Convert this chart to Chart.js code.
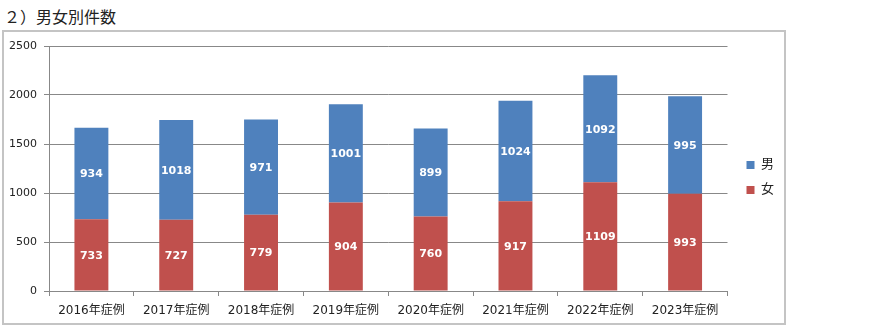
<!DOCTYPE html>
<html>
<head>
<meta charset="utf-8">
<script src="https://cdn.jsdelivr.net/npm/chart.js@4/dist/chart.umd.min.js"></script>
<style>
  body { margin: 0; background: #fff; width: 879px; height: 329px; position: relative; overflow: hidden; }
  #title { position: absolute; left: 4px; top: 4px; font: 16px "Noto Sans CJK JP", sans-serif; color: #222; }
  #box { position: absolute; left: 2px; top: 30px; width: 784px; height: 295px; border: 2px solid #c4c4c4; box-sizing: border-box; }
  #chart { display: block; }
</style>
</head>
<body>
<div id="title">２）男女別件数</div>
<div id="box"><canvas id="chart" width="780" height="291"></canvas></div>
<script>
// categories and series
const years = ['2016年症例', '2017年症例', '2018年症例', '2019年症例', '2020年症例', '2021年症例', '2022年症例', '2023年症例'];
const female = [733, 727, 779, 904, 760, 917, 1109, 993];
const male = [934, 1018, 971, 1001, 899, 1024, 1092, 995];
const yTicks = [0, 500, 1000, 1500, 2000, 2500];

const fontFamily = '"DejaVu Sans", "Noto Sans CJK JP", sans-serif';

// white numbers in the middle of every segment
const segmentLabels = {
    id: 'segmentLabels',
    afterDatasetsDraw(chart) {
        const ctx = chart.ctx;
        ctx.save();
        ctx.font = 'bold 11px ' + fontFamily;
        ctx.fillStyle = '#fff';
        ctx.textAlign = 'center';
        ctx.textBaseline = 'middle';
        chart.data.datasets.forEach((ds, i) => {
            chart.getDatasetMeta(i).data.forEach((bar, j) => {
                const p = bar.getProps(['x', 'y', 'base'], true);
                ctx.fillText(ds.data[j], p.x, (p.y + p.base) / 2 + 1);
            });
        });
        ctx.restore();
    }
};

new Chart(document.getElementById('chart'), {
    type: 'bar',
    data: {
        labels: years,
        datasets: [
            { label: '女', data: female, backgroundColor: '#c0504d', barPercentage: 0.4, categoryPercentage: 1 },
            { label: '男', data: male, backgroundColor: '#4f81bd', barPercentage: 0.4, categoryPercentage: 1 }
        ]
    },
    options: {
        responsive: false,
        animation: false,
        layout: { padding: { top: 14, left: 0, right: 0, bottom: 0 } },
        plugins: {
            tooltip: { enabled: false },
            legend: {
                position: 'right',
                align: 'start',
                reverse: true,
                // empty title only pushes the items down
                title: { display: true, text: '', font: { size: 13 }, padding: { top: 85, bottom: 0 } },
                labels: {
                    boxWidth: 8,
                    boxHeight: 8,
                    padding: 12,
                    color: '#222',
                    font: { family: fontFamily, size: 13 }
                }
            }
        },
        scales: {
            x: {
                stacked: true,
                grid: { drawOnChartArea: false, offset: true, color: '#888', tickLength: 5 },
                border: { color: '#888' },
                ticks: { color: '#222', padding: 8, font: { family: fontFamily, size: 12 } },
                afterFit(s) { s.height = 32; }
            },
            y: {
                stacked: true,
                min: 0,
                max: 2500,
                afterBuildTicks(s) { s.ticks = yTicks.map(v => ({ value: v })); },
                grid: { color: '#888', tickLength: 5 },
                border: { color: '#888' },
                ticks: {
                    color: '#222',
                    padding: 7,
                    font: { family: fontFamily, size: 11 },
                    callback: v => String(v)
                },
                afterFit(s) { s.width = 45; }
            },
            gap: {
                position: 'right',
                display: true,
                grid: { display: false },
                border: { display: false },
                ticks: { display: false },
                afterFit(s) { s.width = 7; }
            }
        }
    },
    plugins: [segmentLabels]
});
</script>
</body>
</html>
